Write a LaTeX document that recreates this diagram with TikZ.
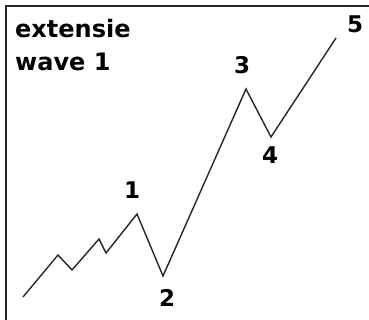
\documentclass[tikz,border=0pt]{standalone}
\usepackage{fontspec}
\setmainfont{DejaVu Sans}
\begin{document}
\begin{tikzpicture}[x=1pt,y=-1pt,
  wavetext/.style={font=\bfseries\fontsize{24}{26}\selectfont, inner sep=0pt, anchor=base west},
  numlabel/.style={font=\bfseries\fontsize{23}{25}\selectfont, inner sep=0pt},
  waveline/.style={draw=black!85, line width=1.4pt, line join=miter},
  frameline/.style={draw=black!85, line width=2pt}]
\useasboundingbox (0,0) rectangle (369,320);
\fill[white] (0,0) rectangle (369,320);
\coordinate (ftr) at (369,6);
\coordinate (ftl) at (6,6);
\coordinate (fbl) at (6,320);
\draw[frameline] (ftr) -- (ftl) -- (fbl);
\node[wavetext] (t1) at (15,38) {extensie};
\node[wavetext] (t2) at (15,71) {wave 1};
\coordinate (p0) at (23,297);
\coordinate (p1) at (58,255);
\coordinate (p2) at (72,270);
\coordinate (p3) at (99,239);
\coordinate (p4) at (106,253);
\coordinate (w1) at (137,214);
\coordinate (w2) at (163,276);
\coordinate (w3) at (246,89);
\coordinate (w4) at (271,137);
\coordinate (w5) at (336,38);
\draw[waveline] (p0) -- (p1) -- (p2) -- (p3) -- (p4) -- (w1) -- (w2) -- (w3) -- (w4) -- (w5);
\node[numlabel] (l1) at (132,190) {1};
\node[numlabel] (l2) at (167,298) {2};
\node[numlabel] (l3) at (242,65) {3};
\node[numlabel] (l4) at (270,155) {4};
\node[numlabel] (l5) at (355,24) {5};
\end{tikzpicture}
\end{document}
